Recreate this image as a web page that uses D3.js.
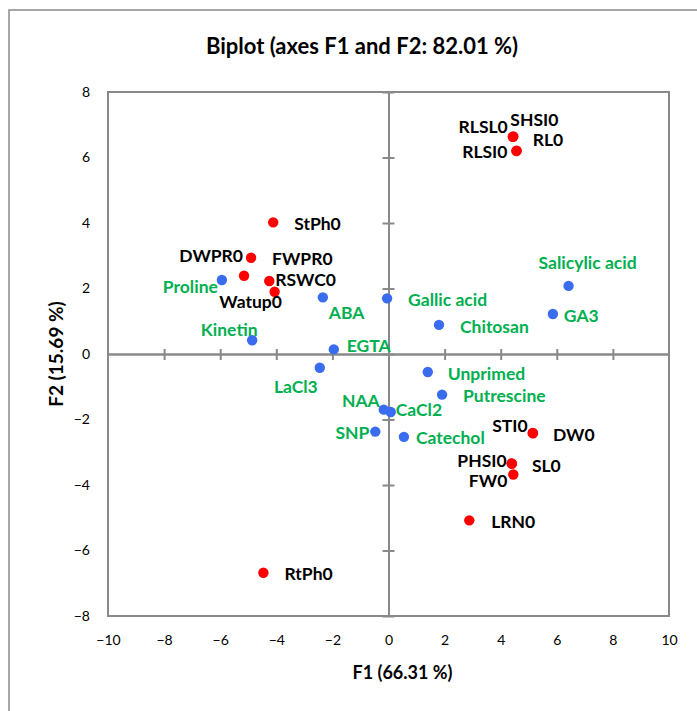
<!DOCTYPE html>
<html>
<head>
<meta charset="utf-8">
<script src="https://cdn.jsdelivr.net/npm/d3@7"></script>
<style>
  html, body { margin: 0; padding: 0; background: #fff; }
  svg { display: block; font-family: Lato, "Noto Sans", sans-serif; }
</style>
</head>
<body>
<svg id="chart" width="697" height="711"></svg>
<script>
// Observations (red) – scores on F1 / F2
const obsNames = ["RLSL0", "SHSI0", "RL0", "RLSI0", "StPh0", "FWPR0", "DWPR0", "RSWC0", "Watup0",
                  "RtPh0", "STI0", "DW0", "PHSI0", "SL0", "FW0", "LRN0"];
const obsF1 = [4.43, 4.45, 4.57, 4.56, -4.11, -4.90, -5.15, -4.25, -4.06,
               -4.46, 5.14, 5.15, 4.39, 4.40, 4.45, 2.88];
const obsF2 = [6.63, 6.64, 6.21, 6.20, 4.02, 2.94, 2.39, 2.23, 1.90,
               -6.68, -2.41, -2.42, -3.34, -3.35, -3.68, -5.08];

// Variables (blue) – loadings on F1 / F2
const varNames = ["Proline", "ABA", "Gallic acid", "Kinetin", "EGTA", "LaCl3", "NAA", "CaCl2", "SNP",
                  "Catechol", "Unprimed", "Putrescine", "Chitosan", "GA3", "Salicylic acid"];
const varF1 = [-5.94, -2.34, -0.05, -4.86, -1.95, -2.45, -0.17, 0.08, -0.47,
               0.55, 1.40, 1.91, 1.80, 5.86, 6.42];
const varF2 = [2.26, 1.73, 1.70, 0.42, 0.14, -0.42, -1.70, -1.77, -2.37,
               -2.53, -0.55, -1.24, 0.89, 1.22, 2.08];

const xTicks = [-10, -8, -6, -4, -2, 0, 2, 4, 6, 8, 10];
const yTicks = [-8, -6, -4, -2, 0, 2, 4, 6, 8];

const titleText = "Biplot (axes F1 and F2: 82.01 %)";
const xTitle = "F1 (66.31 %)";
const yTitle = "F2 (15.69 %)";

// Label placement relative to each marker: [dx, dy, text-anchor]
const labelPlacement = {
  "RLSL0": [-5, -4, "end"], "SHSI0": [-3, -11, "start"], "RL0": [16, -5, "start"], "RLSI0": [-9, 7, "end"],
  "StPh0": [21, 8, "start"], "FWPR0": [21, 7, "start"], "DWPR0": [-1, -14, "end"], "RSWC0": [6, 5, "start"],
  "Watup0": [-24, 16, "middle"], "RtPh0": [21, 7, "start"], "STI0": [-5, -1, "end"], "DW0": [20, 8, "start"],
  "PHSI0": [-5, 4, "end"], "SL0": [20, 8, "start"], "FW0": [-6, 12, "end"], "LRN0": [22, 8, "start"],
  "Proline": [-4, 13, "end"], "ABA": [6, 22, "start"], "Gallic acid": [21, 8, "start"],
  "Kinetin": [-23, -4, "middle"], "EGTA": [13, 3, "start"], "LaCl3": [-2, 25, "end"],
  "NAA": [-4, -3, "end"], "CaCl2": [5, 4, "start"], "SNP": [-6, 7, "end"], "Catechol": [12, 7, "start"],
  "Unprimed": [20, 8, "start"], "Putrescine": [21, 7, "start"], "Chitosan": [21, 8, "start"],
  "GA3": [11, 8, "start"], "Salicylic acid": [19, -17, "middle"]
};

const obsColor = "#ff0000";
const varColor = "#3a6cf0";
const varTextColor = "#00b050";
const gridGray = "#898989";

const svg = d3.select("#chart");
const plot = { left: 108, right: 669, top: 92, bottom: 616 };

const x = d3.scaleLinear().domain([-10, 10]).range([plot.left, plot.right]);
const y = d3.scaleLinear().domain([-8, 8]).range([plot.bottom, plot.top]);

// Outer chart-area frame
svg.append("rect")
  .attr("x", 9).attr("y", 10).attr("width", 720).attr("height", 740)
  .attr("fill", "none").attr("stroke", gridGray).attr("stroke-width", 1.5);

// Title
svg.append("text")
  .attr("x", 362).attr("y", 54)
  .attr("text-anchor", "middle")
  .attr("font-size", 22).attr("font-weight", "bold")
  .text(titleText);

// Plot-area frame
svg.append("rect")
  .attr("x", plot.left).attr("y", plot.top)
  .attr("width", plot.right - plot.left).attr("height", plot.bottom - plot.top)
  .attr("fill", "none").attr("stroke", gridGray).attr("stroke-width", 2);

// Tick labels around the frame
const leftAxis = svg.append("g")
  .attr("transform", `translate(${plot.left},0)`)
  .call(d3.axisLeft(y).tickValues(yTicks).tickSize(0).tickPadding(18));
const bottomAxis = svg.append("g")
  .attr("transform", `translate(0,${plot.bottom})`)
  .call(d3.axisBottom(x).tickValues(xTicks).tickSize(0).tickPadding(19));
[leftAxis, bottomAxis].forEach(g => {
  g.select(".domain").remove();
  g.selectAll("text").attr("font-size", 14).attr("fill", "#000").attr("font-family", "Lato, sans-serif");
});

// Centre axes through the origin with crossing tick marks
function centreAxis(axisA, axisB, transform) {
  const g = svg.append("g").attr("transform", transform);
  g.append("g").call(axisA);
  g.append("g").call(axisB);
  g.selectAll("text").remove();
  g.selectAll("path, line").attr("stroke", gridGray).attr("stroke-width", 2);
}
centreAxis(
  d3.axisLeft(y).tickValues(yTicks).tickSize(6).tickSizeOuter(0),
  d3.axisRight(y).tickValues(yTicks).tickSize(6).tickSizeOuter(0),
  `translate(${x(0)},0)`
);
centreAxis(
  d3.axisTop(x).tickValues(xTicks.filter(v => Math.abs(v) < 10)).tickSize(5).tickSizeOuter(0),
  d3.axisBottom(x).tickValues(xTicks.filter(v => Math.abs(v) < 10)).tickSize(6).tickSizeOuter(0),
  `translate(0,${y(0)})`
);

// Axis titles
svg.append("text")
  .attr("x", x(0) + 14).attr("y", 679)
  .attr("text-anchor", "middle")
  .attr("font-size", 18).attr("font-weight", "bold")
  .text(xTitle);
svg.append("text")
  .attr("transform", `translate(63,${y(0)}) rotate(-90)`)
  .attr("text-anchor", "middle")
  .attr("font-size", 19).attr("font-weight", "bold")
  .text(yTitle);

// Point sets
const observations = obsNames.map((n, i) => ({ name: n, f1: obsF1[i], f2: obsF2[i] }));
const variables = varNames.map((n, i) => ({ name: n, f1: varF1[i], f2: varF2[i] }));

function drawSet(data, fill, textFill) {
  const g = svg.append("g");
  g.selectAll("circle").data(data).join("circle")
    .attr("cx", d => x(d.f1)).attr("cy", d => y(d.f2))
    .attr("r", 5.2).attr("fill", fill);
  g.selectAll("text").data(data).join("text")
    .attr("x", d => x(d.f1) + labelPlacement[d.name][0])
    .attr("y", d => y(d.f2) + labelPlacement[d.name][1])
    .attr("text-anchor", d => labelPlacement[d.name][2])
    .attr("font-size", 17.5).attr("font-weight", "bold")
    .attr("fill", textFill)
    .text(d => d.name);
}
drawSet(variables, varColor, varTextColor);
drawSet(observations, obsColor, "#000");
</script>
</body>
</html>
